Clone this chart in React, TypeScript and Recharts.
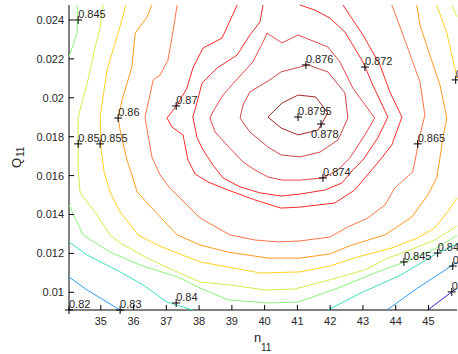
import { ScatterChart, Scatter, XAxis, YAxis } from "recharts"

const N_MIN = 34.03
const N_MAX = 45.87
const Q_MIN = 0.00909
const Q_MAX = 0.02477

const N_TICKS = [35, 36, 37, 38, 39, 40, 41, 42, 43, 44, 45]
const Q_TICKS = [0.01, 0.012, 0.014, 0.016, 0.018, 0.02, 0.022, 0.024]

// contour pieces, points are [n11, Q11]
const C820_A = [[34.03, 0.00919], [34.09, 0.00909]]
const C820_B = [[44.98, 0.00909], [45.71, 0.01002], [45.87, 0.01022]]

const C830_A = [[34.03, 0.01079], [34.58, 0.01012], [35.59, 0.00909]]
const C830_B = [[43.73, 0.00909], [44.67, 0.01022], [45.74, 0.0114], [45.87, 0.01156]]

const C840_A = [[34.03, 0.01259], [34.58, 0.01192], [35.59, 0.01105], [36.29, 0.01038], [37.02, 0.0095], [37.81, 0.00909]]
const C840_B = [[41.93, 0.00909], [42.94, 0.00997], [44.16, 0.01089], [45.28, 0.01202], [45.87, 0.01248]]

const C845_A = [[34.28, 0.02477], [34.28, 0.02333], [34.03, 0.0221]]
const C845_B = [
  [34.03, 0.01449], [34.46, 0.01295], [35.28, 0.01207], [36.2, 0.0114], [37.42, 0.01074], [38.03, 0.01022],
  [38.88, 0.00961], [40.1, 0.00945], [41.02, 0.0095], [42.24, 0.01022], [43.45, 0.01105], [44.28, 0.01156],
  [45.19, 0.01223], [45.87, 0.0129],
]

const C850_A = [
  [35.07, 0.02477], [34.98, 0.02364], [34.83, 0.02261], [34.61, 0.02092], [34.31, 0.01901], [34.31, 0.01629],
  [34.37, 0.01511], [34.89, 0.01397], [35.28, 0.01295], [35.59, 0.01254], [36.41, 0.01176], [37.33, 0.01105],
  [38.03, 0.01053], [38.94, 0.01038], [40.01, 0.01012], [40.92, 0.01017], [41.99, 0.01064], [43.06, 0.01115],
  [43.76, 0.01176], [44.28, 0.01207], [45.19, 0.01269], [45.87, 0.01341],
]
const C850_B = [[45.71, 0.02477], [45.87, 0.02415]]

const C855_A = [
  [35.77, 0.02477], [35.53, 0.02333], [35.19, 0.02143], [34.98, 0.01901], [35.01, 0.01732], [35.1, 0.01619],
  [35.28, 0.01516], [35.59, 0.01413], [36.14, 0.01295], [36.72, 0.01243], [38.03, 0.01156], [38.88, 0.0113],
  [39.89, 0.01099], [41.08, 0.01105], [41.99, 0.01135], [42.85, 0.01182], [43.88, 0.01228], [44.67, 0.01279],
  [45.19, 0.01331], [45.56, 0.01408], [45.87, 0.01485],
]
const C855_B = [[45.25, 0.02477], [45.56, 0.02333], [45.87, 0.02102]]

const C860 = [
  [36.56, 0.02477], [36.41, 0.02415], [36.05, 0.02333], [35.95, 0.02158], [35.65, 0.01989], [35.53, 0.01896],
  [35.59, 0.01834], [35.8, 0.0168], [35.95, 0.01603], [36.11, 0.01516], [36.56, 0.01433], [37.33, 0.01295],
  [38.03, 0.01243], [38.88, 0.01207], [40.1, 0.01176], [41.08, 0.01176], [41.99, 0.01197], [42.66, 0.01243],
  [43.67, 0.01295], [44.49, 0.01387], [44.98, 0.015], [45.25, 0.01588], [45.35, 0.01691], [45.44, 0.01793],
  [45.56, 0.01896], [45.35, 0.02066], [45.04, 0.0222], [44.74, 0.02374], [44.64, 0.02477],
]

const C865 = [
  [37.33, 0.02477], [37.2, 0.02338], [37.05, 0.02194], [36.81, 0.02117], [36.6, 0.02092], [36.5, 0.02014],
  [36.35, 0.01901], [36.44, 0.01809], [36.56, 0.01696], [36.81, 0.01603], [37.11, 0.01536], [38.03, 0.01382],
  [38.94, 0.01295], [39.7, 0.01269], [40.41, 0.01259], [41.08, 0.01264], [41.99, 0.01284], [42.54, 0.01336],
  [43.15, 0.01382], [43.67, 0.01449], [43.97, 0.01536], [44.52, 0.01619], [44.64, 0.01721], [44.74, 0.01809],
  [44.89, 0.01912], [44.74, 0.02081], [44.52, 0.02184], [44.19, 0.02338], [43.88, 0.02477],
]

const C870 = [
  [39.16, 0.02477], [38.7, 0.02307], [38.12, 0.02256], [37.81, 0.02153], [37.63, 0.0205], [37.33, 0.01963],
  [37.02, 0.01896], [37.17, 0.0185], [37.51, 0.01809], [37.66, 0.0168], [37.88, 0.01608], [38.27, 0.01567],
  [38.88, 0.01526], [39.7, 0.01475], [40.5, 0.01433], [41.08, 0.01438], [42.14, 0.01459], [42.75, 0.01526],
  [43.06, 0.01588], [43.52, 0.0168], [43.88, 0.01757], [44.19, 0.01901], [43.82, 0.0203], [43.52, 0.02169],
  [43.0, 0.02323], [42.39, 0.02477],
]

const C872 = [
  [39.95, 0.02477], [39.86, 0.0239], [39.55, 0.02323], [39.16, 0.0222], [38.55, 0.02153], [38.09, 0.02076],
  [37.94, 0.01978], [37.81, 0.01901], [37.94, 0.01793], [38.12, 0.01732], [38.42, 0.01655], [38.73, 0.01588],
  [39.25, 0.01542], [39.86, 0.01511], [40.5, 0.01495], [41.08, 0.01505], [41.84, 0.01526], [42.36, 0.01562],
  [42.69, 0.01629], [43.0, 0.0168], [43.45, 0.01793], [43.76, 0.01901], [43.3, 0.02066], [43.0, 0.02184],
  [42.45, 0.02338], [41.99, 0.0241], [41.53, 0.02451], [41.08, 0.02477],
]

const C874 = [
  [38.33, 0.01896], [38.42, 0.01927], [38.73, 0.02014], [39.0, 0.02066], [39.64, 0.02184], [40.01, 0.02307],
  [40.07, 0.02333], [40.53, 0.02282], [41.02, 0.02323], [41.93, 0.02261], [42.3, 0.02184], [42.69, 0.0205],
  [43.36, 0.01896], [43.0, 0.01793], [42.6, 0.01691], [42.24, 0.01629], [41.78, 0.01588], [41.08, 0.01577],
  [40.53, 0.01577], [40.1, 0.01593], [39.7, 0.01629], [39.34, 0.0167], [38.85, 0.01757], [38.49, 0.01824],
  [38.33, 0.01896],
]

const C876 = [
  [39.25, 0.01896], [39.34, 0.01963], [39.55, 0.0203], [40.16, 0.02092], [40.5, 0.02133], [41.32, 0.02169],
  [41.93, 0.02133], [42.45, 0.02025], [42.54, 0.01896], [42.24, 0.01783], [41.69, 0.01721], [41.08, 0.01696],
  [40.5, 0.01706], [40.1, 0.01747], [39.55, 0.01824], [39.25, 0.01896],
]

const C878 = [
  [40.1, 0.01901], [40.53, 0.01973], [41.02, 0.02014], [41.56, 0.02004], [41.93, 0.01922], [41.63, 0.01834],
  [41.02, 0.01809], [40.5, 0.01845], [40.1, 0.01901],
]

// clabel markers: [n11, Q11, text]
const LABELS: [number, number, string][] = [
  [34.31, 0.024, "0.845"],
  [34.31, 0.01763, "0.85"],
  [34.98, 0.01763, "0.855"],
  [35.53, 0.01896, "0.86"],
  [37.3, 0.01958, "0.87"],
  [41.26, 0.02169, "0.876"],
  [41.02, 0.01901, "0.8795"],
  [41.72, 0.01865, "0.878"],
  [41.78, 0.01588, "0.874"],
  [43.06, 0.02158, "0.872"],
  [44.67, 0.01763, "0.865"],
  [45.83, 0.02092, "0.855"],
  [37.3, 0.00945, "0.84"],
  [35.59, 0.00909, "0.83"],
  [34.03, 0.00909, "0.82"],
  [44.25, 0.01156, "0.845"],
  [45.28, 0.01202, "0.84"],
  [45.74, 0.01135, "0.83"],
  [45.71, 0.01002, "0.82"],
]

const SERIES: [string, number[][]][] = [
  ["0.82", C820_A], ["0.82", C820_B],
  ["0.83", C830_A], ["0.83", C830_B],
  ["0.84", C840_A], ["0.84", C840_B],
  ["0.845", C845_A], ["0.845", C845_B],
  ["0.85", C850_A], ["0.85", C850_B],
  ["0.855", C855_A], ["0.855", C855_B],
  ["0.86", C860],
  ["0.865", C865],
  ["0.87", C870],
  ["0.872", C872],
  ["0.874", C874],
  ["0.876", C876],
  ["0.878", C878],
]

const LEVEL_COLORS: Record<string, string> = {
  "0.82": "#2323c8",
  "0.83": "#2d9cf0",
  "0.84": "#3ee0c0",
  "0.845": "#8cf07a",
  "0.85": "#d2ee4a",
  "0.855": "#ffd21e",
  "0.86": "#ff9a1e",
  "0.865": "#ff7448",
  "0.87": "#ff2a2a",
  "0.872": "#f02c2c",
  "0.874": "#e44a4a",
  "0.876": "#cf4848",
  "0.878": "#a32828",
}

// label text offset from its marker
const LABEL_SHIFT: Record<string, [number, number]> = { "0.878": [-10, 14] }

const FONT = '"Liberation Sans", Arial, Helvetica, sans-serif'
const TEXT = "#262626"

const toPts = (a: number[][]) => a.map(([n, q]) => ({ n, q }))
const markerData = LABELS.map(([n, q, text]) => ({ n, q, text }))

const NoDot = () => <g />

function Marker(props: any) {
  const { cx, cy } = props
  const text = props.payload?.text ?? props.text
  const [dx, dy] = LABEL_SHIFT[text] ?? [0, -2]
  return (
    <g>
      <line x1={cx - 4} x2={cx + 4} y1={cy} y2={cy} stroke="#000" />
      <line x1={cx} x2={cx} y1={cy - 4} y2={cy + 4} stroke="#000" />
      <text x={cx + dx} y={cy + dy} fontSize={11} fontFamily={FONT} fill={TEXT}>
        {text}
      </text>
    </g>
  )
}

const BottomTick = ({ x, y, payload }: any) => (
  <g>
    <line x1={x} x2={x} y1={y} y2={y - 5} stroke="#000" />
    <text x={x} y={y + 15} textAnchor="middle" fontSize={11} fontFamily={FONT} fill={TEXT}>
      {payload.value}
    </text>
  </g>
)
const TopTick = ({ x, y }: any) => <line x1={x} x2={x} y1={y} y2={y + 5} stroke="#000" />
const LeftTick = ({ x, y, payload }: any) => (
  <g>
    <line x1={x} x2={x + 5} y1={y} y2={y} stroke="#000" />
    <text x={x - 5} y={y + 4} textAnchor="end" fontSize={11} fontFamily={FONT} fill={TEXT}>
      {String(payload.value)}
    </text>
  </g>
)
const RightTick = ({ x, y }: any) => <line x1={x} x2={x - 5} y1={y} y2={y} stroke="#000" />

export default function App() {
  return (
    <div style={{ position: "absolute", left: 0, top: 0, width: 458, height: 354, background: "#fff" }}>
      <ScatterChart width={458} height={354} margin={{ top: 5, right: 1, bottom: 0, left: 9 }}>
        <XAxis
          type="number"
          dataKey="n"
          domain={[N_MIN, N_MAX]}
          ticks={N_TICKS}
          interval={0}
          height={44}
          tickSize={0}
          tickMargin={0}
          tickLine={false}
          axisLine={{ stroke: "#000" }}
          tick={BottomTick}
        />
        <XAxis
          xAxisId="top"
          orientation="top"
          type="number"
          domain={[N_MIN, N_MAX]}
          ticks={N_TICKS}
          interval={0}
          height={0}
          tickSize={0}
          tickMargin={0}
          tickLine={false}
          axisLine={{ stroke: "#000" }}
          tick={TopTick}
        />
        <YAxis
          type="number"
          dataKey="q"
          domain={[Q_MIN, Q_MAX]}
          ticks={Q_TICKS}
          interval={0}
          width={60}
          tickSize={0}
          tickMargin={0}
          tickLine={false}
          axisLine={{ stroke: "#000" }}
          tick={LeftTick}
        />
        <YAxis
          yAxisId="right"
          orientation="right"
          type="number"
          domain={[Q_MIN, Q_MAX]}
          ticks={Q_TICKS}
          interval={0}
          width={0}
          tickSize={0}
          tickMargin={0}
          tickLine={false}
          axisLine={{ stroke: "#000" }}
          tick={RightTick}
        />
        {SERIES.map(([level, pts], i) => (
          <Scatter
            key={i}
            data={toPts(pts)}
            fill={LEVEL_COLORS[level]}
            line={{ stroke: LEVEL_COLORS[level], strokeWidth: 1 }}
            lineType="joint"
            shape={NoDot}
            isAnimationActive={false}
          />
        ))}
        <Scatter data={markerData} shape={Marker} isAnimationActive={false} />
      </ScatterChart>
      <svg
        width={458}
        height={354}
        style={{ position: "absolute", left: 0, top: 0, pointerEvents: "none" }}
        fontFamily={FONT}
        fill={TEXT}
      >
        <text x={254} y={342} fontSize={13}>n</text>
        <text x={261} y={351} fontSize={10}>11</text>
        <text transform="translate(21,168) rotate(-90)" fontSize={13}>Q</text>
        <text transform="translate(24,157) rotate(-90)" fontSize={10}>11</text>
      </svg>
    </div>
  )
}
